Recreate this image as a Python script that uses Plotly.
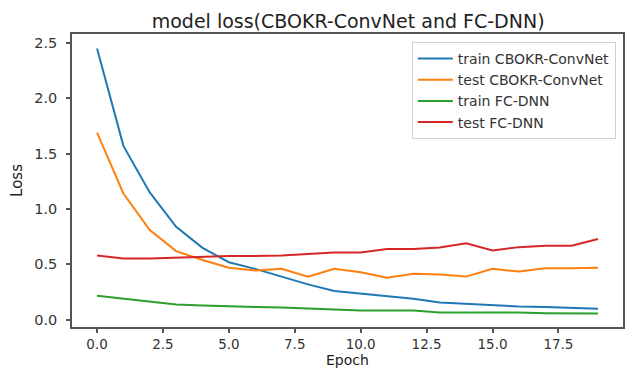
import plotly.graph_objects as go

# Loss history per epoch for the two models
epochs = list(range(20))
train_cbokr = [2.45, 1.57, 1.15, 0.84, 0.65, 0.52, 0.46, 0.39, 0.32, 0.26, 0.235, 0.21,
               0.19, 0.156, 0.144, 0.13, 0.12, 0.115, 0.11, 0.10]
test_cbokr = [1.69, 1.14, 0.81, 0.62, 0.54, 0.47, 0.445, 0.46, 0.39, 0.46, 0.43, 0.38,
              0.415, 0.41, 0.39, 0.46, 0.435, 0.466, 0.466, 0.47]
train_fcdnn = [0.217, 0.19, 0.16, 0.138, 0.13, 0.12, 0.115, 0.11, 0.10, 0.095, 0.085, 0.085,
               0.083, 0.067, 0.068, 0.067, 0.065, 0.06, 0.06, 0.057]
test_fcdnn = [0.58, 0.553, 0.553, 0.56, 0.57, 0.575, 0.575, 0.58, 0.595, 0.607, 0.607, 0.64,
              0.64, 0.653, 0.69, 0.625, 0.656, 0.668, 0.668, 0.73]

series = [
    ("train CBOKR-ConvNet", train_cbokr, "#1f77b4"),
    ("test CBOKR-ConvNet", test_cbokr, "#ff7f0e"),
    ("train FC-DNN", train_fcdnn, "#2ca02c"),
    ("test FC-DNN", test_fcdnn, "#d62728"),
]

font_family = "DejaVu Sans"

fig = go.Figure()
for name, values, color in series:
    fig.add_trace(go.Scatter(x=epochs, y=values, mode="lines", name=name,
                             line=dict(color=color, width=2)))

axis_common = dict(showline=True, linecolor="#555555", linewidth=1.5, mirror=True,
                   ticks="outside", ticklen=4, tickcolor="#555555", tickwidth=1.5,
                   showgrid=False, zeroline=False, automargin=False)

fig.update_layout(
    width=625, height=369,
    margin=dict(l=72, r=2, t=34, b=42),
    paper_bgcolor="white", plot_bgcolor="white",
    title=dict(text="model loss(CBOKR-ConvNet and FC-DNN)", x=0.557, xanchor="center",
               y=0.943, yanchor="middle",
               font=dict(family=font_family, size=19, color="#222222")),
    xaxis=dict(range=[-0.95, 19.95], tickvals=[0, 2.5, 5, 7.5, 10, 12.5, 15, 17.5],
               ticktext=["0.0", "2.5", "5.0", "7.5", "10.0", "12.5", "15.0", "17.5"],
               tickfont=dict(family=font_family, size=13.5, color="#333333"),
               **axis_common),
    yaxis=dict(range=[-0.065, 2.58], tickvals=[0, 0.5, 1.0, 1.5, 2.0, 2.5],
               ticktext=["0.0", "0.5", "1.0", "1.5", "2.0", "2.5"],
               tickfont=dict(family=font_family, size=14.5, color="#333333"),
               ticklabelstandoff=6,
               title=dict(text="Loss", standoff=8,
                          font=dict(family=font_family, size=15, color="#222222")),
               **axis_common),
    legend=dict(x=0.987, y=0.973, xanchor="right", yanchor="top",
                bgcolor="white", bordercolor="#d0d0d0", borderwidth=1,
                font=dict(family=font_family, size=14, color="#333333"),
                tracegroupgap=0, itemwidth=35),
    showlegend=True,
)

# x-axis label placed beneath the tick labels
fig.add_annotation(text="Epoch", xref="paper", yref="paper", x=0.5, y=-0.113,
                   xanchor="center", yanchor="middle", showarrow=False, borderpad=0,
                   font=dict(family=font_family, size=14, color="#222222"))

fig.write_html("out.html")
